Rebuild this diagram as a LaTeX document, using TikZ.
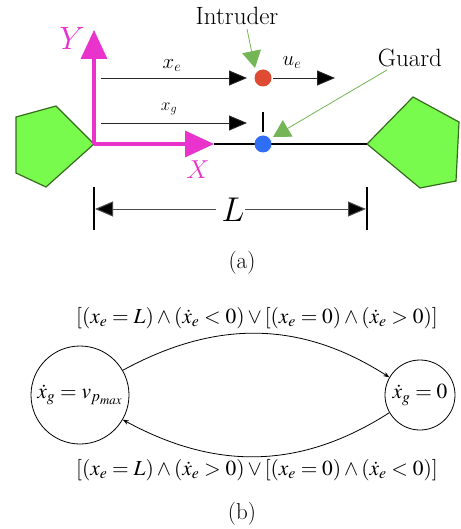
\documentclass[tikz,border=0pt]{standalone}
\usepackage{graphicx}
\usepackage{mathptmx}
\renewcommand{\rmdefault}{lmr}
\DeclareMathVersion{cmver}
\SetSymbolFont{operators}{cmver}{OT1}{cmr}{m}{n}
\SetSymbolFont{letters}{cmver}{OML}{cmm}{m}{it}
\SetSymbolFont{italic}{cmver}{OML}{cmm}{m}{it}
\usetikzlibrary{arrows.meta}
\definecolor{magentaax}{HTML}{EA33CC}
\definecolor{polyfill}{HTML}{78FB4C}
\definecolor{polyedge}{HTML}{376B1E}
\definecolor{pointer}{HTML}{74B655}
\definecolor{reddot}{HTML}{DE4A32}
\definecolor{bluedot}{HTML}{2F6EF5}
\tikzset{
  x=1pt,y=-1pt,
  poly/.style={draw=polyedge,fill=polyfill,line width=1.2pt,line join=miter},
  axisline/.style={draw=magentaax,line width=3.5pt,-{Triangle[length=29pt,width=26pt,fill=magentaax]}},
  measure/.style={draw=black!85,line width=0.9pt,-{Triangle[length=18pt,width=15pt,fill=black]}},
  dimline/.style={draw=black!70,line width=1pt,-{Triangle[length=18pt,width=15pt,fill=black]}},
  tick/.style={draw=black,line width=1.2pt},
  callout/.style={draw=pointer,line width=0.8pt,-{Triangle[length=17pt,width=19pt,fill=pointer]}},
  dot/.style={circle,inner sep=0pt,minimum size=17pt},
  rail/.style={draw=black,line width=1.2pt},
  state/.style={circle,draw=black,line width=0.8pt,inner sep=0pt},
  trans/.style={draw=black,line width=0.8pt,-{Stealth[length=6pt,width=4.5pt]}},
  lbl/.style={inner sep=0pt,text=black},
}
\newcommand{\fs}[1]{\fontsize{#1}{#1}\selectfont}
\newcommand{\cmmath}[1]{\mbox{\mathversion{cmver}$#1$}}
\begin{document}
\begin{tikzpicture}
\useasboundingbox (0,0) rectangle (460,529);
\clip (0,0) rectangle (460,529);
% polygons
\node[inner sep=0pt] (O) at (94,144) {};
\coordinate (XT) at (214,144);
\coordinate (YT) at (94,30);
\coordinate (RP) at (367,144);
\draw[poly] (16,117) -- (56,106) -- (O.center) -- (46,187) -- (16,173) -- cycle;
\draw[poly] (RP) -- (413,97) -- (459,122) -- (456,181) -- (420,188) -- cycle;
% rail and axes
\draw[rail] (XT) -- (RP);
\draw[axisline] (O.center) -- (XT);
\draw[axisline] (O.center) -- (YT);
\node[lbl,text=magentaax,font=\fs{24.88}] (Ylab) at (72,38) {\scalebox{1.3}{\cmmath{Y}}};
\node[lbl,text=magentaax,font=\fs{20.74}] (Xlab) at (198,170) {\scalebox{1.25}{\cmmath{X}}};
% dots
\node[dot,fill=reddot] (E) at (263,78) {};
\node[dot,fill=bluedot] (G) at (263,144) {};
% measures
\coordinate (XeS) at (101,78);
\coordinate (XeE) at (247,78);
\coordinate (XgS) at (101,123);
\coordinate (XgE) at (247,123);
\coordinate (UeE) at (335,78);
\coordinate (T1) at (263,112);
\coordinate (T2) at (263,132);
\draw[measure] (XeS) -- (XeE);
\draw[measure] (XgS) -- (XgE);
\draw[measure] (273,78) -- (UeE);
\draw[tick] (T1) -- (T2);
\node[lbl,font=\fs{20}] (xe) at (172,66) {\cmmath{x_e}};
\node[lbl,font=\fs{17.28}] (xg) at (169,109) {\cmmath{x_g}};
\node[lbl,font=\fs{20}] (ue) at (292,63) {\cmmath{u_e}};
% callouts
\node[lbl,font=\fs{25}] (Intr) at (237,16) {Intruder};
\node[lbl,font=\fs{25}] (Guard) at (410,58) {Guard};
\draw[callout] (247,29) -- (255,68);
\draw[callout] (387,70) -- (273,137);
% dimension
\coordinate (L1a) at (94,187);
\coordinate (L1b) at (94,230);
\coordinate (L2a) at (367,187);
\coordinate (L2b) at (367,230);
\draw[tick] (L1a) -- (L1b);
\draw[tick] (L2a) -- (L2b);
\node[lbl,font=\fs{24.88}] (L) at (233,210) {\scalebox{1.38}{\cmmath{L}}};
\draw[dimline] (216,209) -- (95,209);
\draw[dimline] (245,209) -- (366,209);
\node[lbl,font=\fs{23}] (a) at (242,263) {(a)};
% automaton
\node[state,minimum size=98pt] (S1) at (80,395) {};
\node[state,minimum size=70pt] (S2) at (420,395) {};
\node[lbl,font=\fs{21.4}] at (S1.center) {$\dot{x}_g=v_{p_{max}}$};
\node[lbl,font=\fs{21.4}] at (S2.center) {$\dot{x}_g=0$};
\draw[trans] (S1.30) .. controls (215,320) and (300,320) .. (S2.150);
\draw[trans] (S2.210) .. controls (300,470) and (215,470) .. (S1.-30);
\node[lbl,font=\fs{21.4}] (t1) at (257,318) {$[(x_e=L)\wedge(\dot{x}_e<0)\vee[(x_e=0)\wedge(\dot{x}_e>0)]$};
\node[lbl,font=\fs{21.4}] (t2) at (257,470) {$[(x_e=L)\wedge(\dot{x}_e>0)\vee[(x_e=0)\wedge(\dot{x}_e<0)]$};
\node[lbl,font=\fs{23}] (b) at (242,514) {(b)};
\end{tikzpicture}
\end{document}
